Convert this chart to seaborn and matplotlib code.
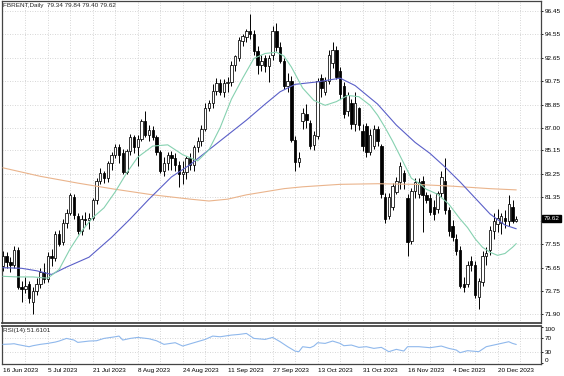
import matplotlib

matplotlib.use("Agg")

import matplotlib.pyplot as plt
import numpy as np
import pandas as pd
import seaborn as sns

# daily OHLC bars, 16 Jun 2023 .. 28 Dec 2023 (bar index = trading day)
OPENS = [
    75.8, 76.6, 76.1, 75.9, 77.1, 74.1, 73.9, 74.3, 72.9, 73.8, 74.3, 75.3, 74.7, 76.6, 76.4, 78.4,
    77.7, 79.3, 80.1, 81.4, 79.8, 78.6, 79.6, 79.5, 79.7, 81.1, 82.7, 83.3, 82.9, 84.1, 84.8, 85.4,
    84.9, 83.4, 85.1, 86.2, 85.4, 86.1, 87.5, 86.4, 86.8, 86.2, 85.0, 83.5, 84.1, 84.8, 84.5, 84.0,
    83.2, 83.4, 84.5, 84.0, 85.4, 85.9, 86.9, 88.6, 89.0, 90.0, 90.6, 89.9, 90.6, 90.7, 92.1, 92.6,
    94.0, 94.3, 94.8, 94.6, 93.2, 92.1, 92.6, 92.0, 92.9, 94.8, 93.5, 92.4, 90.4, 90.8, 86.0, 84.2,
    87.5, 88.1, 87.4, 85.6, 86.3, 91.0, 89.9, 90.8, 92.2, 93.3, 91.6, 90.4, 88.3, 89.0, 87.3, 88.6,
    86.7, 87.1, 85.0, 85.5, 86.9, 85.5, 81.4, 79.8, 80.6, 81.8, 82.6, 83.3, 81.3, 77.8, 81.9, 81.6,
    82.7, 81.5, 81.3, 80.6, 80.4, 81.7, 82.7, 80.3, 79.0, 78.0, 77.1, 74.3, 74.3, 76.2, 75.9, 73.3,
    74.5, 76.6, 77.1, 78.6, 79.2, 79.3, 79.7, 79.4, 80.6, 79.40,
]
HIGHS = [
    77.0, 76.9, 76.5, 77.4, 77.3, 74.6, 74.9, 74.6, 74.1, 74.8, 75.6, 76.0, 76.9, 77.2, 78.6, 78.7,
    79.6, 80.4, 81.7, 81.6, 80.1, 79.9, 80.2, 80.1, 81.3, 82.9, 83.7, 83.5, 84.3, 85.0, 85.7, 85.7,
    85.3, 85.3, 86.5, 86.4, 86.4, 87.7, 88.3, 87.2, 87.1, 86.4, 85.2, 84.6, 85.0, 85.1, 84.9, 84.3,
    84.3, 84.7, 84.9, 85.6, 86.2, 87.2, 89.0, 89.2, 90.5, 91.0, 90.9, 90.9, 91.1, 92.4, 92.9, 94.3,
    94.6, 95.0, 96.2, 94.9, 93.6, 92.9, 92.9, 92.9, 95.2, 95.5, 93.9, 92.6, 91.4, 91.2, 86.3, 85.0,
    88.6, 88.9, 87.6, 86.7, 91.0, 91.3, 91.1, 93.3, 93.9, 93.6, 91.9, 90.7, 89.9, 89.3, 89.9, 88.7,
    87.3, 87.4, 86.9, 87.2, 87.1, 85.7, 81.7, 81.7, 82.5, 83.0, 84.2, 83.6, 81.6, 82.1, 82.9, 82.9,
    83.1, 81.8, 81.6, 81.1, 81.9, 83.5, 84.5, 80.6, 79.5, 78.4, 77.4, 74.9, 76.2, 76.6, 76.2, 74.8,
    77.0, 77.3, 79.0, 80.1, 80.4, 80.1, 80.3, 81.5, 81.1, 79.84,
]
LOWS = [
    75.4, 75.6, 75.3, 75.6, 73.9, 72.9, 73.6, 72.8, 71.9, 73.4, 74.0, 74.4, 74.5, 75.8, 76.2, 77.4,
    77.5, 78.9, 79.9, 79.6, 78.4, 78.3, 79.1, 78.8, 79.5, 80.8, 82.4, 82.5, 82.6, 83.6, 84.5, 84.1,
    83.2, 83.2, 84.8, 84.9, 83.9, 85.9, 86.2, 85.9, 86.0, 84.8, 83.3, 83.1, 83.6, 83.6, 83.5, 82.2,
    82.4, 82.8, 83.6, 83.5, 85.0, 85.5, 86.7, 88.3, 88.6, 89.6, 89.6, 89.5, 89.9, 90.4, 91.6, 92.4,
    93.6, 93.9, 94.2, 92.9, 91.3, 91.6, 91.5, 90.7, 92.5, 93.2, 92.2, 90.1, 89.9, 85.8, 83.5, 83.8,
    86.9, 87.0, 85.3, 85.2, 86.1, 89.5, 89.6, 90.5, 91.8, 90.9, 89.3, 87.8, 87.9, 86.9, 86.7, 86.8,
    85.1, 84.6, 84.8, 85.3, 85.5, 81.3, 79.3, 79.6, 80.3, 81.6, 82.0, 82.0, 76.6, 77.6, 81.3, 81.3,
    78.5, 80.9, 79.9, 79.5, 80.1, 81.4, 80.0, 78.2, 77.8, 76.7, 74.0, 73.7, 74.1, 75.4, 73.2, 72.3,
    74.2, 75.9, 76.7, 78.0, 78.5, 78.4, 78.9, 79.0, 79.3, 79.34,
]
CLOSES = [
    76.6, 76.1, 75.9, 77.1, 74.1, 73.9, 74.2, 73.2, 73.8, 74.3, 75.3, 74.7, 76.6, 76.4, 78.4, 77.6,
    79.3, 80.1, 81.5, 79.9, 78.6, 79.6, 79.5, 79.7, 81.1, 82.7, 83.3, 82.9, 84.1, 84.8, 85.4, 84.8,
    83.4, 85.1, 86.2, 85.4, 86.1, 87.5, 86.4, 86.8, 86.2, 85.0, 83.5, 84.1, 84.8, 84.5, 84.0, 83.2,
    83.4, 84.5, 84.0, 85.4, 85.9, 86.9, 88.6, 89.0, 90.0, 90.6, 89.9, 90.6, 90.7, 92.1, 92.8, 94.1,
    94.4, 94.8, 94.6, 93.2, 92.1, 92.4, 92.0, 92.6, 94.8, 93.5, 92.4, 90.4, 90.8, 86.0, 84.2, 84.5,
    88.2, 87.6, 85.5, 86.4, 90.8, 90.2, 90.8, 92.9, 93.3, 91.1, 89.7, 88.1, 89.6, 87.3, 89.0, 87.2,
    85.5, 85.0, 86.4, 86.9, 85.9, 81.6, 79.6, 81.4, 82.3, 82.7, 83.9, 82.7, 77.7, 81.9, 82.6, 82.6,
    81.5, 81.1, 80.2, 80.0, 81.7, 83.0, 80.3, 78.6, 78.1, 77.0, 74.2, 74.1, 75.9, 75.9, 73.4, 74.6,
    76.6, 76.8, 78.7, 79.4, 79.7, 79.8, 79.4, 80.8, 79.4, 79.62,
]

# indicator lines (bar index, value)
FAST_MA_BARS = [0, 4, 8, 12, 15, 18, 21, 24, 27, 30, 33, 36, 40, 44, 48, 52, 55, 58, 61, 64, 67,
                70, 73, 75, 77, 80, 83, 86, 89, 92, 95, 98, 100, 102, 104, 106, 109, 111, 113, 116,
                119, 122, 124, 126, 128, 130, 132, 134, 136, 137]
FAST_MA = [74.95, 74.9, 74.9, 74.8, 75.5, 77.2, 78.6, 79.7, 80.5, 81.8, 83.3, 84.6, 85.5, 85.6,
           84.8, 84.3, 85.2, 87.0, 89.3, 91.0, 92.6, 93.0, 93.1, 92.8, 91.9, 90.2, 89.2, 88.8, 89.1,
           89.6, 89.5, 88.8, 88.0, 87.0, 85.9, 84.7, 82.9, 82.5, 82.0, 81.6, 80.8, 79.6, 78.9, 78.0,
           77.3, 76.9, 76.65, 76.8, 77.3, 77.6]
SLOW_MA_BARS = [0, 5, 9, 13, 17, 23, 29, 34, 39, 45, 50, 55, 60, 65, 70, 74, 78, 84, 90, 94, 100,
                105, 110, 114, 118, 122, 126, 130, 134, 137]
SLOW_MA = [75.65, 75.6, 75.4, 75.1, 75.7, 76.5, 78.1, 79.6, 81.2, 83.0, 84.0, 85.2, 86.4, 87.6,
           88.9, 89.9, 90.5, 90.7, 91.0, 90.4, 88.9, 87.2, 85.8, 84.9, 83.8, 82.6, 81.3, 80.0, 79.1,
           78.8]
LONG_MA_BARS = [0, 10, 20, 30, 40, 50, 55, 60, 65, 70, 75, 80, 90, 100, 110, 120, 130, 137]
LONG_MA = [83.74, 83.05, 82.5, 82.0, 81.55, 81.2, 81.05, 81.2, 81.55, 81.8, 82.05, 82.2, 82.4,
           82.45, 82.4, 82.25, 82.05, 81.95]

RSI_BARS = [0, 2, 3, 4, 7, 8, 10, 12, 14, 15, 17, 19, 20, 23, 25, 27, 30, 31, 32, 34, 36, 39, 41,
            43, 46, 48, 51, 54, 56, 58, 61, 63, 65, 67, 70, 72, 74, 76, 78, 79, 80, 82, 83, 84, 86,
            88, 90, 91, 93, 95, 97, 99, 101, 103, 105, 107, 108, 111, 114, 117, 119, 121, 122, 124,
            127, 129, 131, 133, 135, 136, 137]
RSI = [51.9, 52.8, 53.7, 51.3, 45.3, 48.1, 51.9, 54.6, 58.3, 61.1, 68.5, 63.9, 57.4, 61.1, 62.0,
       68.5, 73.1, 75.0, 63.9, 68.5, 71.3, 67.6, 62.0, 51.9, 56.5, 47.2, 56.5, 65.7, 75.0, 73.1,
       77.8, 79.6, 82.4, 68.5, 65.7, 71.3, 59.3, 45.4, 33.0, 31.5, 45.3, 42.6, 47.2, 56.5, 54.6,
       61.1, 54.6, 48.1, 50.0, 43.5, 45.4, 40.7, 43.5, 31.5, 38.0, 33.3, 45.4, 45.4, 42.6, 47.2,
       40.7, 36.1, 28.7, 34.3, 31.5, 45.4, 50.0, 54.6, 59.3, 54.6, 51.6]

# 79.45 sits under the last-price marker in the reference, so its label is not shown
PRICE_TICKS = [96.45, 94.55, 92.65, 90.75, 88.85, 87.00, 85.15, 83.25, 81.35, 79.45, 77.55,
               75.65, 73.75, 71.90]
HIDDEN_TICK = 79.45
RSI_TICKS = [100, 70, 30, 0]
DATE_BARS = [0, 12, 24, 36, 48, 60, 72, 84, 96, 108, 120, 132]
DATE_LABELS = ["16 Jun 2023", "5 Jul 2023", "21 Jul 2023", "8 Aug 2023", "24 Aug 2023",
               "11 Sep 2023", "27 Sep 2023", "13 Oct 2023", "31 Oct 2023", "16 Nov 2023",
               "4 Dec 2023", "20 Dec 2023"]
TITLE = "FBRENT,Daily  79.34 79.84 79.40 79.62"
RSI_TITLE = "RSI(14) 51.6101"
LAST_PRICE = 79.62

FS = 4.6
GRID = dict(color="#c9c9c9", linestyle=(0, (1, 2)), linewidth=0.6, zorder=0)


def main() -> None:
    sns.set_theme(style="white")
    plt.rcParams["font.family"] = ["Liberation Sans", "DejaVu Sans"]

    bars = pd.DataFrame({"open": OPENS, "high": HIGHS, "low": LOWS, "close": CLOSES})
    bars["idx"] = np.arange(len(bars))
    up = bars["close"] >= bars["open"]

    fig = plt.figure(figsize=(5.64, 3.76), dpi=100)
    ax = fig.add_axes([0.0027, 0.141, 0.9565, 0.856])
    ax_rsi = fig.add_axes([0.0027, 0.032, 0.9565, 0.102])

    xlim = (-0.35, 143.6)

    # candles
    ax.vlines(bars["idx"], bars["low"], bars["high"], color="black", linewidth=0.7, zorder=2)
    body_lo = bars[["open", "close"]].min(axis=1)
    body_h = (bars["close"] - bars["open"]).abs().clip(lower=0.06)
    ax.bar(bars.loc[up, "idx"], body_h[up], bottom=body_lo[up], width=0.64,
           color="white", edgecolor="black", linewidth=0.55, zorder=3)
    ax.bar(bars.loc[~up, "idx"], body_h[~up], bottom=body_lo[~up], width=0.64,
           color="black", edgecolor="black", linewidth=0.55, zorder=3)

    sns.lineplot(x=LONG_MA_BARS, y=LONG_MA, ax=ax, color="#eab48c", linewidth=0.8, zorder=4)
    sns.lineplot(x=SLOW_MA_BARS, y=SLOW_MA, ax=ax, color="#5a5fc8", linewidth=0.8, zorder=4)
    sns.lineplot(x=FAST_MA_BARS, y=FAST_MA, ax=ax, color="#86d1b0", linewidth=0.8, zorder=4)

    ax.set_xlim(*xlim)
    ax.set_ylim(71.17, 97.24)
    for v in PRICE_TICKS:
        ax.axhline(v, **GRID)
    for b in range(6, 144, 6):
        ax.axvline(b, **GRID)
    ax.yaxis.tick_right()
    ax.set_yticks(PRICE_TICKS)
    ax.set_yticklabels(["" if v == HIDDEN_TICK else f"{v:.2f}" for v in PRICE_TICKS])
    ax.tick_params(axis="y", length=1.5, width=0.6, pad=1.2, labelsize=FS, colors="black")
    ax.set_xticks([])
    ax.set_xlabel("")
    ax.set_ylabel("")
    for side, sp in ax.spines.items():
        sp.set_color("#444444")
        sp.set_linewidth(1.3 if side == "bottom" else 0.9)
    ax.text(0.003, 0.994, TITLE, transform=ax.transAxes, ha="left", va="top", fontsize=FS)
    ax.annotate(f"{LAST_PRICE:.2f}", xy=(1.005, LAST_PRICE), xycoords=("axes fraction", "data"),
                ha="left", va="center", fontsize=FS, color="white", annotation_clip=False,
                bbox=dict(boxstyle="square,pad=0.2", fc="black", ec="black"), zorder=10)

    # RSI panel
    sns.lineplot(x=RSI_BARS, y=RSI, ax=ax_rsi, color="#8fb8ec", linewidth=0.8, zorder=3)
    ax_rsi.set_xlim(*xlim)
    ax_rsi.set_ylim(-2.8, 104.2)
    for v in (70, 30):
        ax_rsi.axhline(v, **GRID)
    for b in range(6, 144, 6):
        ax_rsi.axvline(b, **GRID)
    ax_rsi.yaxis.tick_right()
    ax_rsi.set_yticks(RSI_TICKS)
    ax_rsi.set_yticklabels([str(v) for v in RSI_TICKS])
    ax_rsi.tick_params(axis="y", length=1.5, width=0.6, pad=1.2, labelsize=FS, colors="black")
    labels = ax_rsi.get_yticklabels()
    labels[0].set_va("top")
    labels[-1].set_va("bottom")
    ax_rsi.set_xticks(DATE_BARS)
    ax_rsi.set_xticklabels(DATE_LABELS, ha="left")
    ax_rsi.tick_params(axis="x", length=2, width=0.6, pad=1.2, labelsize=FS, colors="black")
    ax_rsi.set_xlabel("")
    ax_rsi.set_ylabel("")
    for side, sp in ax_rsi.spines.items():
        sp.set_color("#444444")
        sp.set_linewidth(1.3 if side == "top" else 0.9)
    ax_rsi.text(0.003, 0.93, RSI_TITLE, transform=ax_rsi.transAxes, ha="left", va="top",
                fontsize=FS)

    fig.savefig("out.png", dpi=100, facecolor="white")
    plt.close(fig)


if __name__ == "__main__":
    main()
